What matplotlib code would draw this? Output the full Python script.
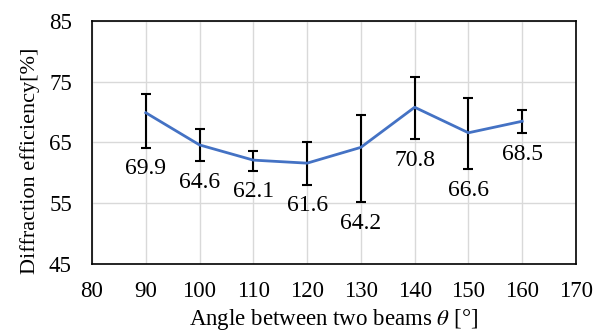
import matplotlib
matplotlib.use("Agg")
import matplotlib.pyplot as plt

# angle between beams (deg) and measured diffraction efficiency (%)
angles = [90, 100, 110, 120, 130, 140, 150, 160]
efficiency = [69.9, 64.6, 62.1, 61.6, 64.2, 70.8, 66.6, 68.5]
err_low = [5.75, 2.7, 1.8, 3.55, 9.05, 5.3, 6.0, 2.0]
err_high = [3.1, 2.6, 1.5, 3.4, 5.25, 4.95, 5.75, 1.8]
labels = ["69.9", "64.6", "62.1", "61.6", "64.2", "70.8", "66.6", "68.5"]

plt.rcParams["font.family"] = ["Liberation Serif", "DejaVu Serif"]
plt.rcParams["mathtext.fontset"] = "stix"

fig = plt.figure(figsize=(6.04, 3.36), dpi=100)
ax = fig.add_axes([0.1523, 0.2143, 0.8013, 0.7232])

ax.errorbar(angles, efficiency, yerr=[err_low, err_high], color="#4472C4",
            linewidth=2, ecolor="black", elinewidth=1.5, capsize=3.5,
            capthick=1.5, zorder=3)

for x, y, lo, txt in zip(angles, efficiency, err_low, labels):
    ax.annotate(txt, (x, y - lo), xytext=(0, -15), textcoords="offset points",
                ha="center", va="center", fontsize=17)

ax.set_xlim(80, 170)
ax.set_ylim(45, 85)
ax.set_xticks(range(80, 171, 10))
ax.set_yticks(range(45, 86, 10))
ax.grid(True, color="#d9d9d9", linewidth=1)
ax.set_axisbelow(True)
ax.tick_params(length=0, labelsize=16.5)
ax.tick_params(axis="x", pad=12)
ax.tick_params(axis="y", pad=14.5)
for s in ax.spines.values():
    s.set_color("black")
    s.set_linewidth(1.2)

ax.set_xlabel(r"Angle between two beams $\theta$ [°]", fontsize=16.5, labelpad=4)
ax.set_ylabel("Diffraction efficiency[%]", fontsize=16)
ax.yaxis.set_label_coords(-0.108, 0.424)

fig.savefig("out.png", dpi=100)
